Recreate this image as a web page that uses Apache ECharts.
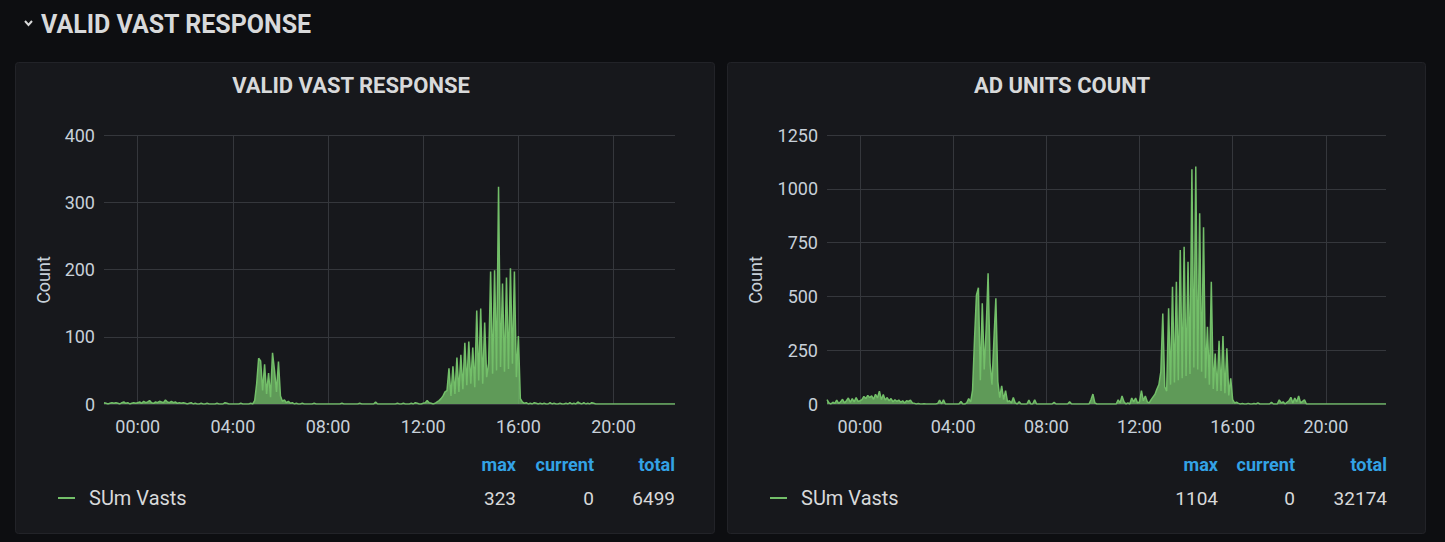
<!DOCTYPE html>
<html>
<head>
<meta charset="utf-8">
<script src="https://cdn.jsdelivr.net/npm/echarts@6/dist/echarts.min.js"></script>
<style>
html,body{margin:0;padding:0;background:#0d0e11;}
#c{width:1445px;height:542px;}
</style>
</head>
<body>
<div id="c"></div>
<script>
// ---------- DATA ----------
// 5-minute samples from 22:35 (previous day) to 22:35
const startHour = 22, startMinute = 35, stepMinutes = 5;
const xTickLabels = ['00:00', '04:00', '08:00', '12:00', '16:00', '20:00'];

const validVast = [
  2, 1, 0, 1, 2,                       // 22:35-22:55
  1, 2, 1, 0, 2, 3, 1, 2, 0, 1, 2, 1,  // 23:00
  2, 3, 1, 4, 2, 3, 5, 2, 1, 3, 2, 4,  // 00:00
  3, 2, 6, 3, 2, 4, 2, 3, 1, 2, 1, 2,  // 01:00
  1, 0, 1, 2, 0, 1, 0, 0, 1, 0, 0, 1,  // 02:00
  0, 0, 0, 0, 1, 0, 0, 0, 2, 1, 0, 0,  // 03:00
  0, 0, 0, 0, 1, 0, 0, 0, 0, 1, 0, 5,  // 04:00
  30, 68, 64, 20, 59, 15, 46, 10, 76, 50, 18, 63, // 05:00
  12, 4, 6, 2, 4, 1, 2, 0, 1, 0, 0, 1, // 06:00
  0, 0, 0, 0, 0, 1, 0, 0, 0, 0, 0, 0,  // 07:00
  0, 0, 0, 0, 0, 0, 0, 1, 0, 0, 0, 0,  // 08:00
  0, 0, 0, 0, 1, 0, 0, 0, 0, 0, 0, 0,  // 09:00
  3, 0, 0, 0, 0, 0, 0, 0, 0, 0, 0, 1,  // 10:00
  0, 0, 1, 0, 0, 0, 1, 0, 2, 1, 0, 0,  // 11:00
  1, 2, 5, 2, 1, 0, 1, 3, 5, 8, 12, 18, // 12:00
  20, 53, 12, 56, 15, 69, 18, 73, 22, 91, 28, 93,      // 13:00
  30, 84, 25, 139, 35, 142, 30, 121, 40, 60, 197, 45,  // 14:00
  199, 50, 323, 55, 179, 48, 188, 52, 202, 60, 197, 40, // 15:00
  101, 8, 3, 1, 2, 0, 1, 0, 2, 1, 0, 1, // 16:00
  0, 1, 0, 0, 2, 0, 1, 0, 0, 1, 0, 0,  // 17:00
  1, 0, 2, 0, 1, 0, 3, 1, 0, 2, 0, 1,  // 18:00
  0, 2, 1, 0, 0, 0, 0, 0, 0, 0, 0, 0,  // 19:00
  0, 0, 0, 0, 0, 0, 0, 0, 0, 0, 0, 0,  // 20:00
  0, 0, 0, 0, 0, 0, 0, 0, 0, 0, 0, 0,  // 21:00
  0, 0, 0, 0, 0, 0, 0, 0               // 22:00-22:35
];

const adUnits = [
  20, 5, 0, 8, 3,                                   // 22:35-22:55
  18, 3, 10, 22, 5, 15, 28, 8, 25, 10, 30, 12,      // 23:00
  15, 20, 35, 25, 40, 30, 38, 22, 45, 28, 60, 20,   // 00:00
  44, 18, 30, 15, 25, 10, 20, 12, 18, 8, 15, 5,     // 01:00
  15, 12, 18, 5, 3, 0, 2, 0, 0, 1, 0, 0,            // 02:00
  0, 0, 0, 0, 2, 18, 0, 20, 0, 0, 0, 0,             // 03:00
  0, 0, 0, 0, 12, 0, 0, 5, 25, 10, 65, 300,         // 04:00
  506, 540, 110, 468, 160, 348, 607, 190, 90, 300, 491, 104, // 05:00
  30, 84, 20, 62, 10, 15, 5, 30, 5, 0, 10, 0,       // 06:00
  0, 0, 0, 18, 0, 0, 20, 0, 0, 0, 0, 0,             // 07:00
  0, 0, 0, 0, 8, 0, 0, 0, 0, 0, 0, 0,               // 08:00
  10, 0, 0, 0, 0, 0, 0, 0, 0, 0, 0, 20,             // 09:00
  46, 5, 0, 0, 0, 0, 0, 0, 0, 0, 0, 0,              // 10:00
  0, 19, 5, 37, 10, 0, 5, 0, 28, 10, 28, 5,         // 11:00
  10, 62, 15, 37, 10, 5, 20, 33, 45, 70, 90, 150,   // 12:00
  421, 80, 60, 445, 90, 545, 100, 568, 110, 716, 120, 731,     // 13:00
  130, 661, 140, 1091, 170, 1104, 160, 886, 150, 821, 120, 359, // 14:00
  90, 568, 70, 235, 60, 294, 60, 316, 50, 259, 40, 119,        // 15:00
  20, 5, 8, 3, 0, 2, 0, 0, 3, 0, 0, 2,              // 16:00
  0, 5, 0, 0, 0, 0, 0, 0, 8, 0, 0, 0,               // 17:00
  19, 5, 10, 0, 8, 15, 31, 5, 28, 10, 37, 5,        // 18:00
  12, 20, 0, 0, 0, 0, 0, 0, 0, 0, 0, 0,             // 19:00
  0, 0, 0, 0, 0, 0, 0, 0, 0, 0, 0, 0,               // 20:00
  0, 0, 0, 0, 0, 0, 0, 0, 0, 0, 0, 0,               // 21:00
  0, 0, 0, 0, 0, 0, 0, 0                            // 22:00-22:35
];

const sectionTitle = 'VALID VAST RESPONSE';
const panelTitles = ['VALID VAST RESPONSE', 'AD UNITS COUNT'];
const yAxisName = 'Count';
const seriesName = 'SUm Vasts';
const legendHeaders = ['max', 'current', 'total'];
const validVastStats = ['323', '0', '6499'];
const adUnitsStats = ['1104', '0', '32174'];
const yMaxLeft = 400, yStepLeft = 100;
const yMaxRight = 1250, yStepRight = 250;

// ---------- BUILD ----------
const categories = [];
for (let i = 0; i < validVast.length; i++) {
  const m = (startHour * 60 + startMinute + i * stepMinutes) % 1440;
  const hh = String(Math.floor(m / 60)).padStart(2, '0');
  const mm = String(m % 60).padStart(2, '0');
  categories.push(hh + ':' + mm);
}
const isTick = (idx, val) => xTickLabels.indexOf(val) >= 0;

const FONT = 'Roboto, "Noto Sans", sans-serif';
const TXT = '#d8d9da';
const AX = '#c7d0d9';
const GRIDC = '#35373c';
const GREEN = '#73bf69';
const BLUE = '#33a2e5';

function xAx(gi) {
  return {
    type: 'category', gridIndex: gi, data: categories, boundaryGap: false,
    axisLine: {show: false}, axisTick: {show: false},
    axisLabel: {interval: isTick, color: AX, fontSize: 18, fontFamily: FONT, margin: 13},
    splitLine: {show: true, interval: isTick, lineStyle: {color: GRIDC, width: 1}}
  };
}
function yAx(gi, max, step) {
  return {
    type: 'value', gridIndex: gi, min: 0, max: max, interval: step,
    axisLine: {show: false}, axisTick: {show: false},
    axisLabel: {color: AX, fontSize: 18, fontFamily: FONT, margin: 9, formatter: v => String(v)},
    splitLine: {show: true, lineStyle: {color: GRIDC, width: 1}}
  };
}
function ser(i, data) {
  return {
    type: 'line', name: seriesName, xAxisIndex: i, yAxisIndex: i, data: data,
    showSymbol: false, symbol: 'none', smooth: false,
    lineStyle: {color: GREEN, width: 1.5},
    itemStyle: {color: GREEN},
    areaStyle: {color: GREEN, opacity: 0.78},
    animation: false
  };
}

const panels = [
  {x: 15, w: 699, titleX: 351, yLabelX: 43, marker: 58, stats: validVastStats, cols: [516, 594, 675]},
  {x: 727, w: 698, titleX: 1062, yLabelX: 755, marker: 770, stats: adUnitsStats, cols: [1218, 1295, 1387]}
];

const graphics = [];
// section header
graphics.push({type: 'polyline', shape: {points: [[25, 21], [28.5, 25], [32, 21]]},
  style: {stroke: TXT, lineWidth: 2, fill: null}, z: 10});
graphics.push({type: 'text', x: 41, y: 24, style: {text: sectionTitle, fill: TXT,
  font: 'bold 25px ' + FONT, textAlign: 'left', textVerticalAlign: 'middle'}, z: 10});

panels.forEach((p, k) => {
  graphics.push({type: 'rect', shape: {x: p.x + 0.5, y: 62.5, width: p.w, height: 471, r: 3},
    style: {fill: '#17181c', stroke: '#222328', lineWidth: 1}, z: -10});
  graphics.push({type: 'text', x: p.titleX, y: 85, style: {text: panelTitles[k], fill: TXT,
    font: 'bold 22px ' + FONT, textAlign: 'center', textVerticalAlign: 'middle'}, z: 10});
  graphics.push({type: 'text', x: p.yLabelX, y: 280, rotation: Math.PI / 2,
    style: {text: yAxisName, fill: AX, font: '18px ' + FONT, textAlign: 'center', textVerticalAlign: 'middle'}, z: 10});
  // legend
  graphics.push({type: 'line', shape: {x1: p.marker, y1: 498, x2: p.marker + 17, y2: 498},
    style: {stroke: GREEN, lineWidth: 2}, z: 10});
  graphics.push({type: 'text', x: p.marker + 31, y: 498, style: {text: seriesName, fill: TXT,
    font: '20px ' + FONT, textAlign: 'left', textVerticalAlign: 'middle'}, z: 10});
  legendHeaders.forEach((h, j) => {
    graphics.push({type: 'text', x: p.cols[j], y: 464, style: {text: h, fill: BLUE,
      font: 'bold 18px ' + FONT, textAlign: 'right', textVerticalAlign: 'middle'}, z: 10});
    graphics.push({type: 'text', x: p.cols[j], y: 498, style: {text: p.stats[j], fill: TXT,
      font: '19px ' + FONT, textAlign: 'right', textVerticalAlign: 'middle'}, z: 10});
  });
});

const chart = echarts.init(document.getElementById('c'), null, {renderer: 'svg', width: 1445, height: 542});
chart.setOption({
  backgroundColor: '#0d0e11',
  animation: false,
  textStyle: {fontFamily: FONT},
  grid: [
    {left: 104, right: 770, top: 135, bottom: 138},
    {left: 827, right: 59, top: 135, bottom: 138}
  ],
  xAxis: [xAx(0), xAx(1)],
  yAxis: [yAx(0, yMaxLeft, yStepLeft), yAx(1, yMaxRight, yStepRight)],
  series: [ser(0, validVast), ser(1, adUnits)],
  graphic: graphics
});
</script>
</body>
</html>
